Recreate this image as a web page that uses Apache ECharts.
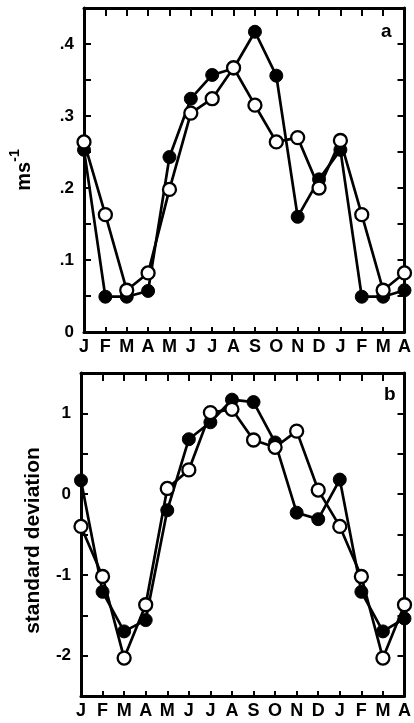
<!DOCTYPE html>
<html>
<head>
<meta charset="utf-8">
<script src="https://cdn.jsdelivr.net/npm/echarts@6/dist/echarts.min.js"></script>
<style>
html,body{margin:0;padding:0;background:#fff;}
#chart{width:414px;height:723px;}
</style>
</head>
<body>
<div id="chart"></div>
<script>
// Month categories (Jan through Apr of the following year)
var months = ['J','F','M','A','M','J','J','A','S','O','N','D','J','F','M','A'];

// Panel a: speed (m s-1)
var speedFilled = [0.253, 0.049, 0.049, 0.057, 0.243, 0.324, 0.357, 0.366, 0.417, 0.356, 0.160, 0.212, 0.253, 0.049, 0.049, 0.058];
var speedOpen   = [0.264, 0.163, 0.058, 0.082, 0.198, 0.304, 0.324, 0.367, 0.315, 0.264, 0.270, 0.200, 0.266, 0.163, 0.058, 0.082];

// Panel b: standard deviation
var sdFilled = [0.17, -1.21, -1.70, -1.56, -0.20, 0.68, 0.89, 1.17, 1.14, 0.64, -0.23, -0.31, 0.18, -1.21, -1.70, -1.54];
var sdOpen   = [-0.40, -1.02, -2.03, -1.37, 0.07, 0.30, 1.01, 1.05, 0.67, 0.58, 0.78, 0.05, -0.40, -1.02, -2.03, -1.37];

var FONT = '"Liberation Sans", Arial, Helvetica, sans-serif';
var chart = echarts.init(document.getElementById('chart'), null, {renderer: 'canvas'});

function xAxes(gridIndex) {
  return [{
    type: 'category', gridIndex: gridIndex, data: months, boundaryGap: false, position: 'bottom',
    axisLine: {onZero: false, lineStyle: {color: '#000', width: 3}},
    axisTick: {inside: true, length: 5, lineStyle: {color: '#000', width: 2}},
    axisLabel: {color: '#000', fontFamily: FONT, fontWeight: 'bold', fontSize: 18, margin: 6, interval: 0},
    splitLine: {show: false}
  }, {
    type: 'category', gridIndex: gridIndex, data: months, boundaryGap: false, position: 'top',
    axisLine: {onZero: false, lineStyle: {color: '#000', width: 3}},
    axisTick: {inside: true, length: 8, lineStyle: {color: '#000', width: 2}},
    axisLabel: {show: false},
    splitLine: {show: false}
  }];
}

function yAxes(gridIndex, min, max, interval, fmt, name, nameGap, nameStyle) {
  return [{
    type: 'value', gridIndex: gridIndex, min: min, max: max, interval: interval, position: 'left',
    name: name, nameLocation: 'middle', nameGap: nameGap, nameRotate: 90,
    nameTextStyle: nameStyle,
    axisLine: {show: true, onZero: false, lineStyle: {color: '#000', width: 3}},
    axisTick: {show: true, inside: true, length: 7, lineStyle: {color: '#000', width: 2}},
    axisLabel: {color: '#000', fontFamily: FONT, fontWeight: 'bold', fontSize: 17, margin: 10,
      showMinLabel: true, showMaxLabel: true, hideOverlap: false, formatter: fmt},
    splitLine: {show: false}
  }, {
    type: 'value', gridIndex: gridIndex, min: min, max: max, interval: interval, position: 'right',
    axisLine: {show: true, onZero: false, lineStyle: {color: '#000', width: 3}},
    axisTick: {show: true, inside: true, length: 7, lineStyle: {color: '#000', width: 2}},
    axisLabel: {show: false},
    splitLine: {show: false}
  }];
}

function fmtA(v) {
  var k = Math.round(v * 100);
  if (k % 10 !== 0) return '';
  if (k === 0) return '0';
  return '.' + (k / 10);
}
function fmtB(v) {
  var k = Math.round(v * 10);
  if (k % 10 !== 0) return '';
  return String(k / 10);
}

function series(xi, yi, data, open) {
  return {
    type: 'line', xAxisIndex: xi, yAxisIndex: yi, data: data,
    symbol: 'circle', symbolSize: 13, showSymbol: true,
    lineStyle: {color: '#000', width: 2.7},
    itemStyle: open ? {color: '#fff', borderColor: '#000', borderWidth: 2.3} : {color: '#000', borderColor: '#000', borderWidth: 1},
    z: open ? 3 : 2,
    animation: false
  };
}

var option = {
  animation: false,
  backgroundColor: '#fff',
  grid: [
    {left: 81, right: 7, top: 8, height: 324},
    {left: 81, right: 7, top: 373, height: 323}
  ],
  xAxis: xAxes(0).concat(xAxes(1)),
  yAxis: yAxes(0, 0, 0.45, 0.05, fmtA, '{m|ms}{s|-1}', 50, {
      color: '#000', fontFamily: FONT, fontWeight: 'bold',
      rich: {
        m: {fontFamily: FONT, fontWeight: 'bold', fontSize: 20, color: '#000', lineHeight: 26, verticalAlign: 'bottom'},
        s: {fontFamily: FONT, fontWeight: 'bold', fontSize: 14, color: '#000', lineHeight: 26, verticalAlign: 'top'}
      }
    }).concat(yAxes(1, -2.5, 1.5, 0.5, fmtB, 'standard deviation', 37, {
      color: '#000', fontFamily: FONT, fontWeight: 'bold', fontSize: 21, padding: [0, 12, 0, 0]
    })),
  series: [
    series(0, 0, speedFilled, false),
    series(0, 0, speedOpen, true),
    series(2, 2, sdFilled, false),
    series(2, 2, sdOpen, true)
  ],
  graphic: [
    {type: 'text', left: 381, top: 22, style: {text: 'a', font: 'bold 19px ' + FONT, fill: '#000'}},
    {type: 'text', left: 384, top: 385, style: {text: 'b', font: 'bold 19px ' + FONT, fill: '#000'}}
  ]
};
chart.setOption(option);
</script>
</body>
</html>
